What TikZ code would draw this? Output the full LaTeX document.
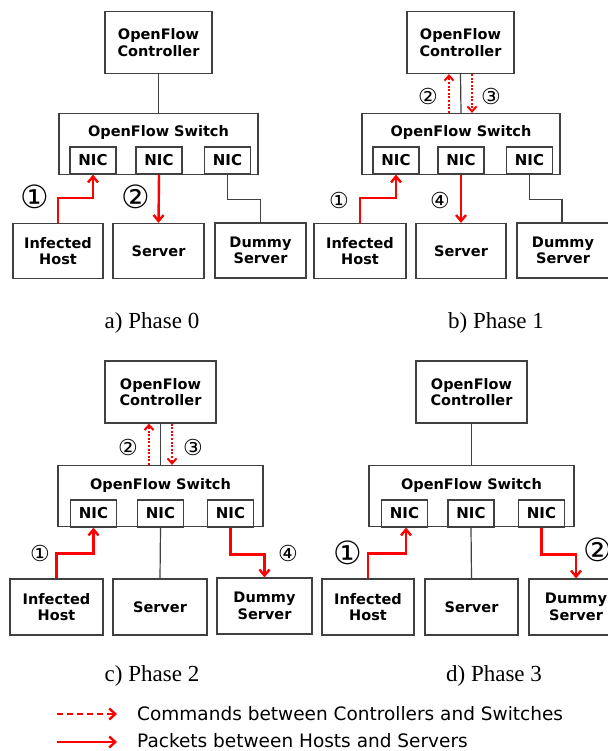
\documentclass[tikz,border=0pt]{standalone}
\usepackage{fontspec}
\setmainfont{DejaVu Sans}
\newfontfamily\phasefont{Liberation Serif}
\usetikzlibrary{arrows.meta}

\begin{document}
\begin{tikzpicture}[x=1pt, y=-1pt,
                    box/.style={draw=black!75, line width=1.2pt, fill=white, inner sep=0pt, align=center, font=\bfseries\fontsize{14.5}{16.5}\selectfont},
                    ctrlbox/.style={box, minimum width=109, minimum height=62},
                    swbox/.style={box, minimum height=61},
                    nicbox/.style={box, minimum width=46, minimum height=27, font=\bfseries\fontsize{15}{17}\selectfont},
                    hostbox/.style={box, minimum height=55},
                    swtext/.style={font=\bfseries\fontsize{14.5}{16.5}\selectfont, inner sep=0pt},
                    wire/.style={draw=black!75, line width=1.2pt},
                    pkt/.style={draw=red, line width=2.4pt, -{Straight Barb[length=6pt, width=10pt]}},
                    cmd/.style={draw=red, line width=2pt, dash pattern=on 2pt off 1.6pt, -{Straight Barb[length=5pt, width=9pt]}},
                    numbig/.style={inner sep=0pt, font=\fontsize{32}{32}\selectfont},
                    numsmall/.style={inner sep=0pt, font=\fontsize{22}{22}\selectfont},
                    phase/.style={inner sep=0pt, font=\phasefont\fontsize{23}{23}\selectfont},
                    legtext/.style={anchor=west, inner sep=0pt, font=\fontsize{18.5}{18.5}\selectfont},
                ]
    \useasboundingbox (0,0) rectangle (607,751);

    %Phase 0
    \node[ctrlbox, minimum width=107](ctrlA) at (158.5,42.5) {OpenFlow\\Controller};
    \node[swbox, minimum width=199](swA) at (158.5,144) {};
    \node[swtext](swAt) at (158.5,133) {OpenFlow Switch};
    \node[nicbox](nicA1) at (93,160.5) {NIC};
    \node[nicbox](nicA2) at (159,160.5) {NIC};
    \node[nicbox](nicA3) at (227.5,160.5) {NIC};
    \node[hostbox, minimum width=90](hostA) at (58,251) {Infected\\Host};
    \node[hostbox, minimum width=91](srvA) at (158.5,251) {Server};
    \node[hostbox, minimum width=91](dumA) at (260.5,250.5) {Dummy\\Server};
    \node[numbig](a1) at (35,197) {①};
    \node[numbig](a2) at (136,197) {②};
    \node[phase](phA) at (152,323) {a) Phase 0};

    \draw[wire](ctrlA.south) -- (swA.north);
    \draw[pkt](hostA.north) -- ++(0,-25) -| (nicA1.south);
    \draw[pkt](nicA2.south) -- (srvA.north);
    \draw[wire](nicA3.south) -- ++(0,25) -| (dumA.north);

    %Phase 1
    \node[ctrlbox, minimum width=107](ctrlB) at (460.5,42.5) {OpenFlow\\Controller};
    \node[swbox, minimum width=198](swB) at (461,144) {};
    \node[swtext](swBt) at (461,133) {OpenFlow Switch};
    \node[nicbox](nicB1) at (396,160.5) {NIC};
    \node[nicbox](nicB2) at (461,160.5) {NIC};
    \node[nicbox](nicB3) at (529.5,160.5) {NIC};
    \node[hostbox, minimum width=92](hostB) at (360,251) {Infected\\Host};
    \node[hostbox, minimum width=90](srvB) at (461,251) {Server};
    \node[hostbox, minimum width=92](dumB) at (563,250.5) {Dummy\\Server};
    \node[numsmall](b2) at (428,96) {②};
    \node[numsmall](b3) at (491,96) {③};
    \node[numsmall](b1) at (339,200) {①};
    \node[numsmall](b4) at (440,200) {④};
    \node[phase](phB) at (496,323) {b) Phase 1};

    \draw[wire](ctrlB.south) -- (swB.north);
    \draw[cmd]([xshift=-12pt]swB.north) -- ([xshift=-11.5pt]ctrlB.south);
    \draw[cmd]([xshift=11.5pt]ctrlB.south) -- ([xshift=11pt]swB.north);
    \draw[pkt](hostB.north) -- ++(0,-25) -| (nicB1.south);
    \draw[pkt](nicB2.south) -- (srvB.north);
    \draw[wire](nicB3.south) -- ++(0,25) -| ([xshift=-1pt]dumB.north);

    %Phase 2
    \node[ctrlbox, minimum width=111](ctrlC) at (160.5,392) {OpenFlow\\Controller};
    \node[swbox, minimum width=205](swC) at (160.5,496) {};
    \node[swtext](swCt) at (160.5,485) {OpenFlow Switch};
    \node[nicbox](nicC1) at (93.5,513.5) {NIC};
    \node[nicbox](nicC2) at (160.5,513.5) {NIC};
    \node[nicbox](nicC3) at (230.5,513.5) {NIC};
    \node[hostbox, minimum width=93, minimum height=56](hostC) at (56.5,607) {Infected\\Host};
    \node[hostbox, minimum width=94, minimum height=56](srvC) at (160,607) {Server};
    \node[hostbox, minimum width=95, minimum height=56](dumC) at (264.5,606) {Dummy\\Server};
    \node[numsmall](c2) at (128,447) {②};
    \node[numsmall](c3) at (193,447) {③};
    \node[numsmall](c1) at (40,553) {①};
    \node[numsmall](c4) at (288,553) {④};
    \node[phase](phC) at (152,676) {c) Phase 2};

    \draw[wire](ctrlC.south) -- (swC.north);
    \draw[cmd]([xshift=-11.5pt]swC.north) -- ([xshift=-11.5pt]ctrlC.south);
    \draw[cmd]([xshift=11.5pt]ctrlC.south) -- ([xshift=11.5pt]swC.north);
    \draw[pkt](hostC.north) -- ++(0,-25) -| (nicC1.south);
    \draw[wire](nicC2.south) -- (srvC.north);
    \draw[pkt](nicC3.south) -- ++(0,27) -| (dumC.north);

    %Phase 3
    \node[ctrlbox, minimum width=111](ctrlD) at (471.5,392) {OpenFlow\\Controller};
    \node[swbox, minimum width=205](swD) at (471.5,496) {};
    \node[swtext](swDt) at (471.5,485) {OpenFlow Switch};
    \node[nicbox](nicD1) at (404.5,513.5) {NIC};
    \node[nicbox](nicD2) at (471,513.5) {NIC};
    \node[nicbox](nicD3) at (541.5,513.5) {NIC};
    \node[hostbox, minimum width=92, minimum height=56](hostD) at (368,607) {Infected\\Host};
    \node[hostbox, minimum width=93, minimum height=56](srvD) at (471.5,607) {Server};
    \node[hostbox, minimum width=94, minimum height=56](dumD) at (576,607) {Dummy\\Server};
    \node[numbig](d1) at (348,553) {①};
    \node[numbig](d2) at (598,550) {②};
    \node[phase](phD) at (494,676) {d) Phase 3};

    \draw[wire](ctrlD.south) -- (swD.north);
    \draw[pkt](hostD.north) -- ++(0,-25) -| ([xshift=1.5pt]nicD1.south);
    \draw[wire](nicD2.south) -- (srvD.north);
    \draw[pkt](nicD3.south) -- ++(0,27) -| (dumD.north);

    %Legend
    \coordinate (lgA) at (57,714);
    \coordinate (lgB) at (117,714);
    \coordinate (lgC) at (57,742);
    \coordinate (lgD) at (117,742);
    \draw[draw=red, line width=2.4pt, dash pattern=on 6pt off 4pt, -{Straight Barb[length=6pt, width=11pt]}](lgA) -- (lgB);
    \draw[pkt, -{Straight Barb[length=6pt, width=11pt]}](lgC) -- (lgD);
    \node[legtext](lgT1) at (137,714) {Commands between Controllers and Switches};
    \node[legtext](lgT2) at (137,741) {Packets between Hosts and Servers};
\end{tikzpicture}
\end{document}
